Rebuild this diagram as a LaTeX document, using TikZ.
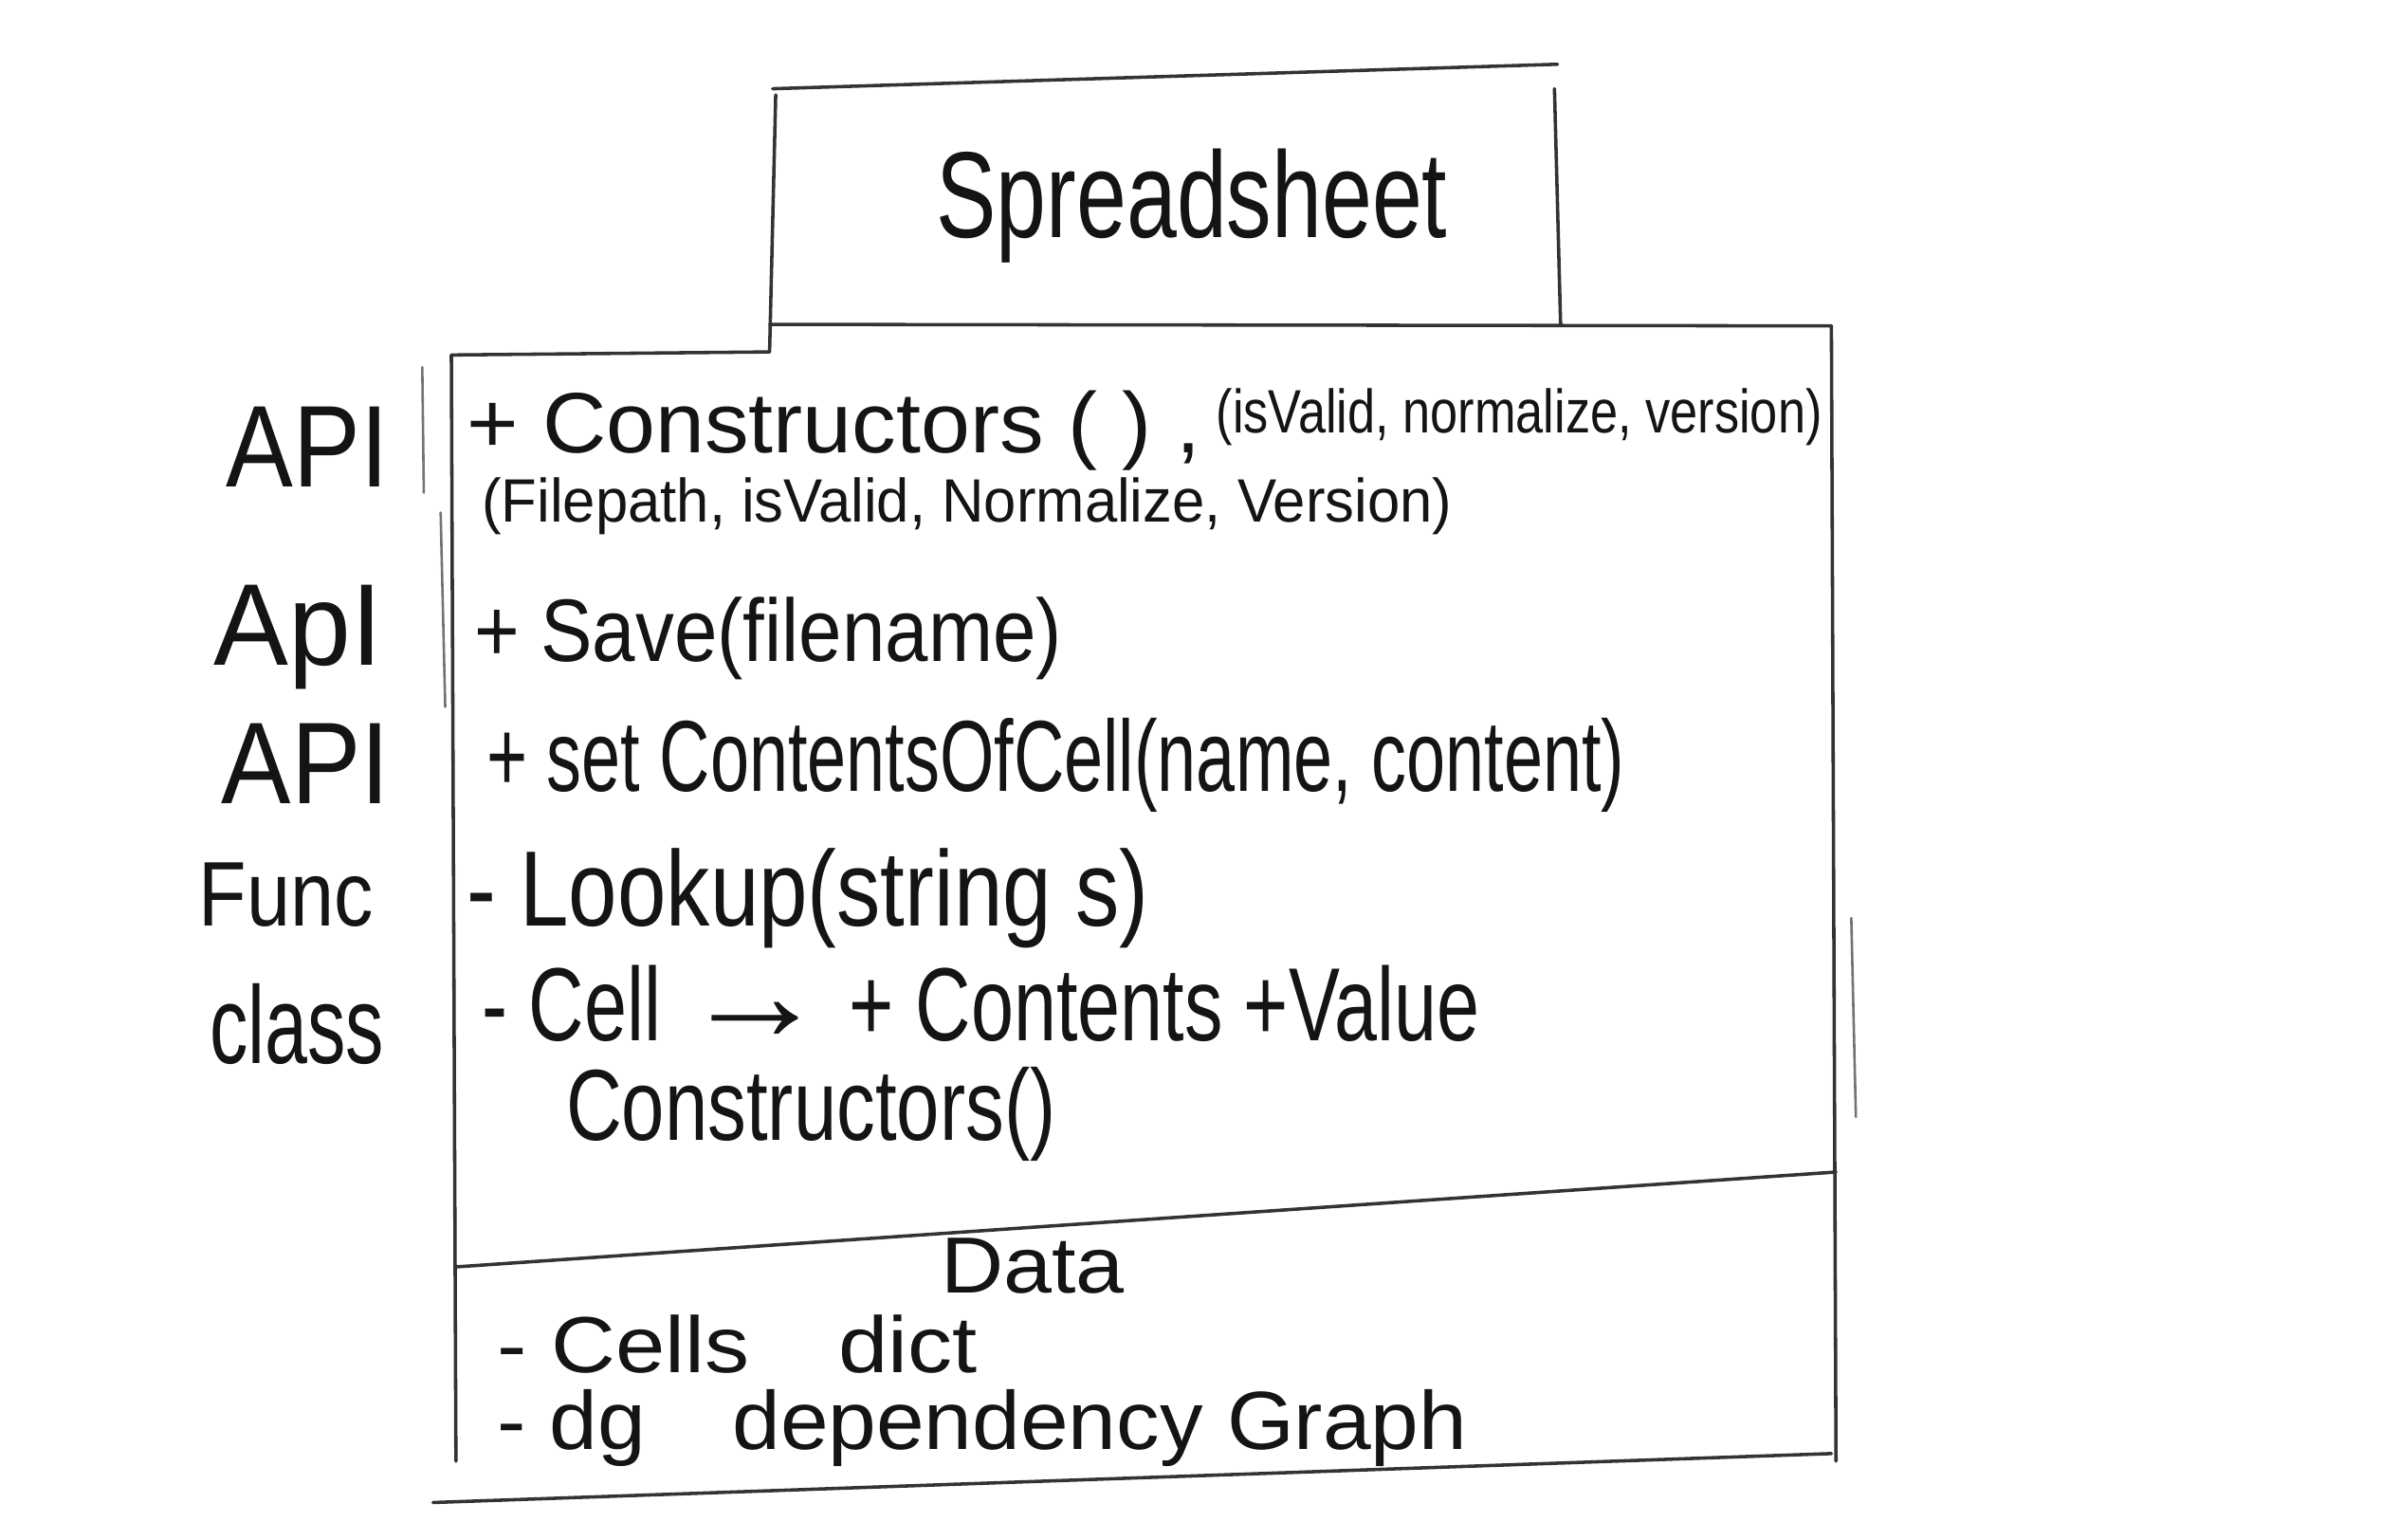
\documentclass[tikz,border=0pt]{standalone}
\usepackage{fontspec}
\setmainfont{Liberation Sans}
\usepackage{graphicx}
% squeeze a line of text horizontally to a given width, keeping its height
\newcommand{\fitw}[2]{\resizebox{#1}{\height}{#2}}
\newcommand{\fs}[1]{\fontsize{#1}{#1}\selectfont}

\begin{document}
\begin{tikzpicture}[x=0.5pt,y=-0.5pt,
  pencil/.style={draw=black!80, line width=1.1pt, line cap=round, line join=round},
  faint/.style={draw=black!55, line width=0.8pt, line cap=round},
  txt/.style={anchor=base west, inner sep=0pt, outer sep=0pt, text=black!92},
]
\useasboundingbox[fill=white] (0,0) rectangle (1568,1006);

% ---- class name box ----
\coordinate (tl) at (505,58);
\coordinate (tr) at (1018,42);
\coordinate (bl) at (503,230);
\coordinate (br) at (1020,212);
\draw[pencil] (tl) -- (tr);
\draw[pencil] (507,62) -- (bl);
\draw[pencil] (1016,58) -- (br);
\node[txt, font=\fs{40}] (title) at (612,155) {\fitw{167pt}{Spreadsheet}};

% ---- member box ----
\coordinate (ml) at (295,232);
\coordinate (mr) at (1197,213);
\coordinate (sepl) at (298,828);
\coordinate (sepr) at (1200,766);
\coordinate (botl) at (283,982);
\coordinate (botr) at (1197,950);
\draw[pencil] (ml) -- (bl);
\draw[pencil] (503,212) -- (mr);
\draw[pencil] (ml) -- (298,955);
\draw[pencil] (mr) -- (1200,955);
\draw[faint] (1210,600) -- (1213,730);
\draw[faint] (276,240) -- (277,322);
\draw[faint] (288,335) -- (291,462);
\draw[pencil] (sepl) -- (sepr);
\draw[pencil] (botl) -- (botr);

% ---- stereotype labels ----
\node[txt, font=\fs{38}] (l1) at (148,318) {\fitw{53pt}{API}};
\node[txt, font=\fs{38}] (l2) at (140,435) {\fitw{55pt}{ApI}};
\node[txt, font=\fs{38}] (l3) at (145,525) {\fitw{55pt}{API}};
\node[txt, font=\fs{30}] (l4) at (130,605) {\fitw{57pt}{Func}};
\node[txt, font=\fs{36}] (l5) at (137,695) {\fitw{57pt}{class}};

% ---- operations ----
\node[txt, font=\fs{28}] (ctor) at (305,296) {\fitw{240pt}{+ Constructors ( ) ,}};
\node[txt, font=\fs{20}] (ctorargs) at (795,283) {\fitw{198pt}{(isValid, normalize, version)}};
\node[txt, font=\fs{20}] (ctorfile) at (315,341) {\fitw{317pt}{(Filepath, isValid, Normalize, Version)}};
\node[txt, font=\fs{29}] (save) at (310,432) {\fitw{192pt}{+ Save(filename)}};
\node[txt, font=\fs{33}] (setc) at (318,517) {\fitw{372pt}{+ set ContentsOfCell(name, content)}};
\node[txt, font=\fs{35}] (look) at (305,605) {\fitw{223pt}{- Lookup(string s)}};
\node[txt, font=\fs{34}] (cell) at (315,680) {\fitw{326pt}{- Cell \scalebox{1.9}[1.3]{→} + Contents +Value}};
\node[txt, font=\fs{33}] (cellctor) at (370,745) {\fitw{160pt}{Constructors()}};

% ---- data ----
\node[txt, font=\fs{26}] (data) at (615,845) {\fitw{60pt}{Data}};
\node[txt, font=\fs{26}] (cells) at (325,897) {\fitw{157pt}{- Cells\quad dict}};
\node[txt, font=\fs{27}] (dg) at (325,947) {\fitw{317pt}{- dg\quad dependency Graph}};
\end{tikzpicture}
\end{document}
